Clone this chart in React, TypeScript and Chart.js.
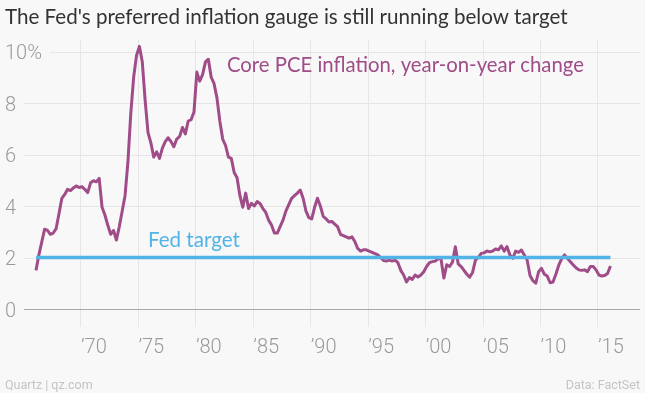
import React, { useEffect, useRef } from "react";
import { Chart, registerables } from "chart.js";

Chart.register(...registerables);

// ---- Data ----
const START_YEAR = 1966 + 1 / 12; // first observation (Feb 1966)
const STEP = 0.25; // quarterly samples
const corePce: number[] = [
  // 1966
  1.5, 2.1, 2.6, 3.1,
  // 1967
  3.05, 2.9, 2.95, 3.12,
  // 1968
  3.7, 4.3, 4.45, 4.65,
  // 1969
  4.6, 4.7, 4.78, 4.72,
  // 1970
  4.75, 4.65, 4.52, 4.9,
  // 1971
  4.98, 4.94, 5.07, 3.95,
  // 1972
  3.65, 3.25, 2.9, 3.05,
  // 1973
  2.68, 3.2, 3.8, 4.4,
  // 1974
  5.7, 7.6, 9.0, 9.85,
  // 1975
  10.2, 9.6, 8.1, 6.85,
  // 1976
  6.45, 5.9, 6.1, 5.85,
  // 1977
  6.25, 6.5, 6.65, 6.5,
  // 1978
  6.3, 6.6, 6.7, 7.05,
  // 1979
  6.8, 7.3, 7.35, 7.65,
  // 1980
  9.2, 8.85, 9.1, 9.6,
  // 1981
  9.7, 9.0, 8.75, 8.2,
  // 1982
  7.3, 6.6, 6.35, 5.9,
  // 1983
  5.85, 5.3, 5.1, 4.4,
  // 1984
  3.95, 4.5, 3.9, 4.1,
  // 1985
  4.0, 4.17, 4.1, 3.9,
  // 1986
  3.75, 3.45, 3.26, 2.95,
  // 1987
  2.95, 3.2, 3.45, 3.8,
  // 1988
  4.05, 4.3, 4.4, 4.5,
  // 1989
  4.62, 4.3, 3.8, 3.55,
  // 1990
  3.5, 3.95, 4.3, 4.0,
  // 1991
  3.6, 3.5, 3.38, 3.4,
  // 1992
  3.3, 3.2, 2.9, 2.85,
  // 1993
  2.8, 2.75, 2.8, 2.62,
  // 1994
  2.35, 2.25, 2.3, 2.3,
  // 1995
  2.25, 2.2, 2.15, 2.1,
  // 1996
  2.0, 1.88, 1.86, 1.9,
  // 1997
  1.86, 1.9, 1.8, 1.5,
  // 1998
  1.32, 1.05, 1.22, 1.15,
  // 1999
  1.32, 1.24, 1.32, 1.45,
  // 2000
  1.65, 1.8, 1.84, 1.86,
  // 2001
  1.95, 1.95, 1.2, 1.72,
  // 2002
  1.65, 1.82, 2.42, 1.75,
  // 2003
  1.65, 1.5, 1.35, 1.24,
  // 2004
  1.42, 1.9, 2.0, 2.16,
  // 2005
  2.18, 2.25, 2.22, 2.25,
  // 2006
  2.33, 2.3, 2.45, 2.25,
  // 2007
  2.42, 2.1, 1.97, 2.25,
  // 2008
  2.2, 2.29, 2.1, 1.9,
  // 2009
  1.3, 1.1, 1.0, 1.45,
  // 2010
  1.58, 1.35, 1.28, 1.02,
  // 2011
  1.05, 1.35, 1.7, 1.95,
  // 2012
  2.1, 1.97, 1.84, 1.72,
  // 2013
  1.6, 1.52, 1.5, 1.52,
  // 2014
  1.45, 1.65, 1.65, 1.52,
  // 2015
  1.32, 1.28, 1.3, 1.38,
  // 2016
  1.67,
];
const fedTarget = 2;
const xTickYears = [1970, 1975, 1980, 1985, 1990, 1995, 2000, 2005, 2010, 2015];
const xTickLabels = ["’70", "’75", "’80", "’85", "’90", "’95", "’00", "’05", "’10", "’15"];
const yTickValues = [0, 2, 4, 6, 8, 10];
const yTickLabels = ["0", "2", "4", "6", "8", "10%"];

const titleText = "The Fed's preferred inflation gauge is still running below target";
const seriesLabel = "Core PCE inflation, year-on-year change";
const targetLabel = "Fed target";
const sourceText = "Quartz | qz.com";
const creditText = "Data: FactSet";

// label anchors (data coordinates)
const seriesLabelAt = { x: 1982.7, y: 9.5 };
const targetLabelAt = { x: 1975.83, y: 2.7 };

// ---- Style ----
const BG = "#f8f8f8";
const PURPLE = "#a04c88";
const BLUE = "#52b3e6";
const GRID = "#e6e6e6";
const ZERO = "#a8a8a8";
const TICK = "#9a9a9a";
const TITLE = "#333333";
const FOOT = "#c4c4c4";

const X_MIN = 1964.865;
const X_MAX = 2018.656;
const Y_MIN = -0.699;
const Y_MAX = 10.447;

function fitFont(ctx: CanvasRenderingContext2D, text: string, weight: string, family: string, target: number) {
  ctx.font = `${weight} 20px ${family}`;
  const w = ctx.measureText(text).width;
  const size = (20 * target) / w;
  return `${weight} ${size.toFixed(2)}px ${family}`;
}

const TICK_FONT = "300 20px Roboto, 'Noto Sans', sans-serif";

const decor = {
  id: "decor",
  beforeDraw(chart: any) {
    const { ctx, width, height } = chart;
    ctx.save();
    ctx.fillStyle = BG;
    ctx.fillRect(0, 0, width, height);
    ctx.restore();
  },
  beforeDatasetsDraw(chart: any) {
    const { ctx, chartArea, scales } = chart;
    const y = scales.y;
    ctx.save();
    ctx.font = TICK_FONT;
    yTickValues.forEach((v, i) => {
      const py = Math.round(y.getPixelForValue(v)) + 0.5;
      const w = ctx.measureText(yTickLabels[i]).width;
      ctx.strokeStyle = v === 0 ? ZERO : GRID;
      ctx.lineWidth = 1;
      ctx.beginPath();
      ctx.moveTo(5 + w + 8, py);
      ctx.lineTo(chartArea.right, py);
      ctx.stroke();
    });
    ctx.restore();
  },
  afterDraw(chart: any) {
    const { ctx, scales, width } = chart;
    const x = scales.x;
    const y = scales.y;
    ctx.save();
    // y tick labels
    ctx.font = TICK_FONT;
    ctx.fillStyle = TICK;
    ctx.textAlign = "left";
    ctx.textBaseline = "alphabetic";
    yTickValues.forEach((v, i) => {
      ctx.fillText(yTickLabels[i], 5, y.getPixelForValue(v) + 7.5);
    });
    // x tick labels
    xTickYears.forEach((yr, i) => {
      ctx.fillText(xTickLabels[i], x.getPixelForValue(yr), 353);
    });
    // title
    ctx.fillStyle = TITLE;
    ctx.font = fitFont(ctx, titleText, "400", "Lato, 'Open Sans', sans-serif", 563);
    ctx.fillText(titleText, 5, 24);
    // annotations
    ctx.fillStyle = PURPLE;
    ctx.font = fitFont(ctx, seriesLabel, "400", "Lato, 'Open Sans', sans-serif", 357);
    ctx.fillText(seriesLabel, x.getPixelForValue(seriesLabelAt.x), y.getPixelForValue(seriesLabelAt.y) + 7.5);
    ctx.fillStyle = BLUE;
    ctx.font = fitFont(ctx, targetLabel, "400", "Lato, 'Open Sans', sans-serif", 92);
    ctx.fillText(targetLabel, x.getPixelForValue(targetLabelAt.x), y.getPixelForValue(targetLabelAt.y) + 7.5);
    // footer
    ctx.fillStyle = FOOT;
    ctx.font = "400 12.5px Roboto, 'Noto Sans', sans-serif";
    ctx.fillText(sourceText, 5, 389);
    ctx.textAlign = "right";
    ctx.fillText(creditText, width - 5, 389);
    ctx.restore();
  },
};

export default function App() {
  const ref = useRef<HTMLCanvasElement>(null);
  useEffect(() => {
    document.body.style.margin = "0";
    const canvas = ref.current;
    if (!canvas) return;
    const points = corePce.map((v, i) => ({ x: START_YEAR + i * STEP, y: v }));
    const first = points[0].x;
    const last = points[points.length - 1].x;
    const chart = new Chart(canvas, {
      type: "line",
      data: {
        datasets: [
          {
            label: targetLabel,
            data: [
              { x: first, y: fedTarget },
              { x: last, y: fedTarget },
            ],
            borderColor: BLUE,
            borderWidth: 3.5,
            pointRadius: 0,
            order: 0,
          },
          {
            label: seriesLabel,
            data: points,
            borderColor: PURPLE,
            borderWidth: 3,
            pointRadius: 0,
            tension: 0,
            borderJoinStyle: "round",
            order: 1,
          },
        ],
      },
      options: {
        animation: false,
        responsive: false,
        layout: { padding: { left: 22, right: 5, top: 40, bottom: 66 } },
        plugins: {
          legend: { display: false },
          tooltip: { enabled: false },
          title: { display: false },
        },
        scales: {
          x: {
            type: "linear",
            min: X_MIN,
            max: X_MAX,
            afterBuildTicks: (axis: any) => {
              axis.ticks = xTickYears.map((v) => ({ value: v }));
            },
            ticks: { display: false },
            grid: { color: GRID, drawTicks: false, lineWidth: 1 },
            border: { display: false },
          },
          y: {
            type: "linear",
            min: Y_MIN,
            max: Y_MAX,
            display: false,
          },
        },
      },
      plugins: [decor],
    } as any);
    return () => chart.destroy();
  }, []);
  return (
    <div style={{ width: 645, height: 393, background: BG }}>
      <canvas ref={ref} width={645} height={393} style={{ display: "block" }} />
    </div>
  );
}
